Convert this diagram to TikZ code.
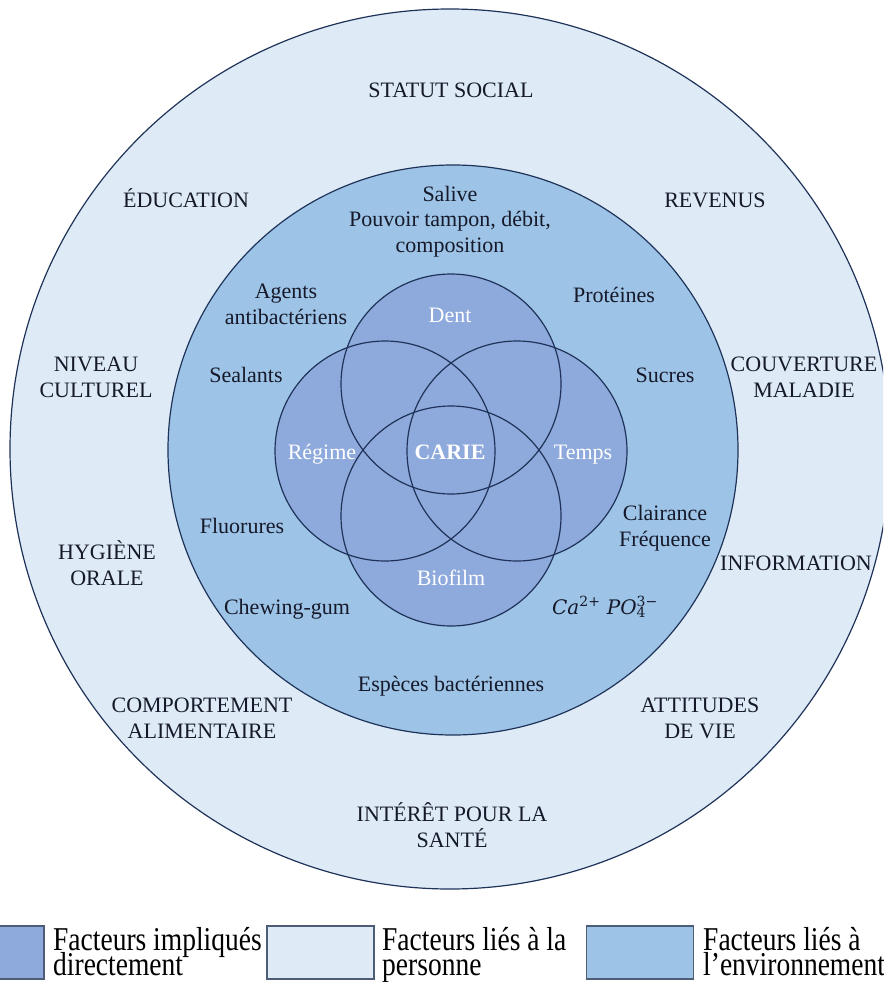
\documentclass[tikz,border=0pt]{standalone}
\usepackage{fontspec}
\usepackage{graphicx}
\setmainfont{Liberation Serif}
\newfontfamily\ionfont{DejaVu Serif}
\definecolor{venn}{HTML}{8EA9DB}
\definecolor{milieu}{HTML}{9DC3E6}
\definecolor{personne}{HTML}{DEEBF7}
\definecolor{trait}{HTML}{1F3359}
\definecolor{cadre}{HTML}{4D5D78}
\definecolor{encre}{HTML}{16192A}
\newcommand{\legende}[2]{\scalebox{1}[1.21]{\vtop{\lineskiplimit=-50pt\baselineskip=20.7pt\hbox{#1}\hbox{#2}}}}
\tikzset{
  txt/.style={font=\fontsize{22}{25.5}\selectfont, text=encre, align=center, inner sep=0pt, anchor=base},
  vtxt/.style={txt, text=white},
  legbox/.style={draw=cadre, line width=1.6pt, minimum width=107pt, minimum height=53pt, inner sep=0pt},
  legtxt/.style={font=\fontsize{27.5}{20.7}\selectfont, text=black, inner sep=0pt, anchor=base west}
}
\begin{document}
\begin{tikzpicture}[x=1pt,y=-1pt]
        %用同心圓與四個相交的圓畫出齲齒的成因
        \useasboundingbox (0,0) rectangle (883,982);
        \clip (0,0) rectangle (883,982);
        \fill[white] (0,0) rectangle (883,982);

        \coordinate (Outer) at (450,449);
        \coordinate (Milieu) at (453,450);
        \coordinate (Dent) at (451,384);
        \coordinate (Regime) at (385,451);
        \coordinate (Temps) at (517,451);
        \coordinate (Biofilm) at (451,516);

        \draw[trait, line width=1.2pt, fill=personne] (Outer) circle (440pt);
        \draw[trait, line width=1.2pt, fill=milieu] (Milieu) circle (285pt);
        \foreach \c in {Dent,Regime,Temps,Biofilm}
            \fill[venn] (\c) circle (110pt);
        \foreach \c in {Dent,Regime,Temps,Biofilm}
            \draw[trait, line width=1.2pt] (\c) circle (110pt);

        % le point de base d'un texte sur plusieurs lignes est sa derniere ligne
        \node[txt] (statut) at (451,97) {STATUT SOCIAL};
        \node[txt] (education) at (186,207) {ÉDUCATION};
        \node[txt] (revenus) at (715,207) {REVENUS};
        \node[txt] (salive) at (450,252) {Salive\\Pouvoir tampon, débit,\\composition};
        \node[txt] (agents) at (286,324) {Agents\\antibactériens};
        \node[txt] (proteines) at (614,302) {Protéines};
        \node[txt] (niveau) at (96,397) {NIVEAU\\CULTUREL};
        \node[txt] (sealants) at (246,382) {Sealants};
        \node[txt] (sucres) at (665,382) {Sucres};
        \node[txt] (couverture) at (804,397) {COUVERTURE\\MALADIE};
        \node[txt] (fluorures) at (242,533) {Fluorures};
        \node[txt] (clairance) at (665,546) {Clairance\\Fréquence};
        \node[txt] (hygiene) at (107,585) {HYGIÈNE\\ORALE};
        \node[txt] (information) at (796,570) {INFORMATION};
        \node[txt] (chewing) at (287,614) {Chewing-gum};
        \node[txt, font=\fontsize{20}{24}\ionfont] (ions) at (605,614)
            {\itshape Ca\textsuperscript{\upshape 2+}~PO\rlap{\textsubscript{\upshape 4}}\textsuperscript{\upshape 3−}};
        \node[txt] (especes) at (451,691) {Espèces bactériennes};
        \node[txt] (comportement) at (202,738) {COMPORTEMENT\\ALIMENTAIRE};
        \node[txt] (attitudes) at (700,738) {ATTITUDES\\DE VIE};
        \node[txt] (interet) at (452,847) {INTÉRÊT POUR LA\\SANTÉ};

        \node[vtxt] (tDent) at (450,322) {Dent};
        \node[vtxt] (tRegime) at (322,459) {Régime};
        \node[vtxt] (tCarie) at (450,459) {\textbf{CARIE}};
        \node[vtxt] (tTemps) at (583,459) {Temps};
        \node[vtxt] (tBiofilm) at (451,585) {Biofilm};

        \node[legbox, fill=venn] (keyDirect) at (-9.5,952.5) {};
        \node[legbox, fill=personne] (keyPersonne) at (320.5,952.5) {};
        \node[legbox, fill=milieu] (keyMilieu) at (640,952.5) {};
        \node[legtxt] (txtDirect) at (53,950) {\legende{Facteurs impliqués}{directement}};
        \node[legtxt] (txtPersonne) at (382,950) {\legende{Facteurs liés à la}{personne}};
        \node[legtxt] (txtMilieu) at (703,950) {\legende{Facteurs liés à}{l’environnement}};
\end{tikzpicture}
\end{document}
